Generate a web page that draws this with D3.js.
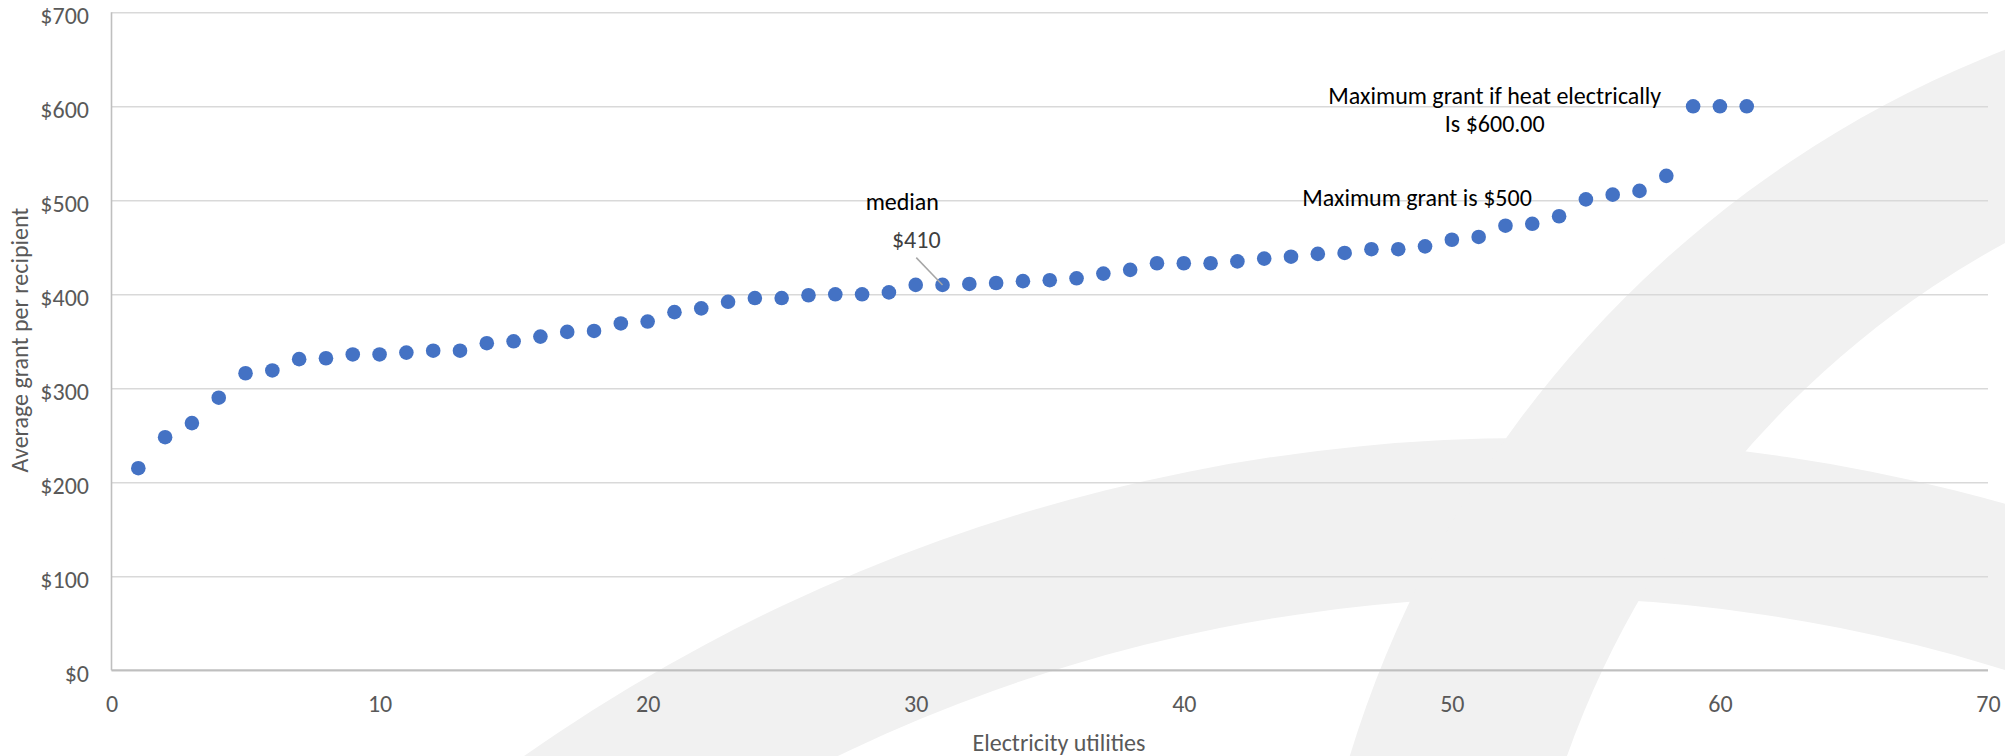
<!DOCTYPE html>
<html>
<head>
<meta charset="utf-8">
<script src="https://cdn.jsdelivr.net/npm/d3@7"></script>
<style>
  body { margin: 0; background: #fff; }
  text { font-family: Carlito, Calibri, Lato, "Liberation Sans", sans-serif; }
</style>
</head>
<body>
<svg id="chart"></svg>
<script>
// utilities ranked by average grant
const utilityRank = [1, 2, 3, 4, 5, 6, 7, 8, 9, 10,
  11, 12, 13, 14, 15, 16, 17, 18, 19, 20,
  21, 22, 23, 24, 25, 26, 27, 28, 29, 30,
  31, 32, 33, 34, 35, 36, 37, 38, 39, 40,
  41, 42, 43, 44, 45, 46, 47, 48, 49, 50,
  51, 52, 53, 54, 55, 56, 57, 58, 59, 60, 61];
const avgGrant = [215, 248, 263, 290, 316, 319, 331, 332, 336, 336,
  338, 340, 340, 348, 350, 355, 360, 361, 369, 371,
  381, 385, 392, 396, 396, 399, 400, 400, 402, 410,
  410, 411, 412, 414, 415, 417, 422, 426, 433, 433,
  433, 435, 438, 440, 443, 444, 448, 448, 451, 458,
  461, 473, 475, 483, 501, 506, 510, 526, 600, 600, 600];
const xTicks = [0, 10, 20, 30, 40, 50, 60, 70];
const yTicks = [0, 100, 200, 300, 400, 500, 600, 700];
const xTitle = 'Electricity utilities';
const yTitle = 'Average grant per recipient';
// annotation texts, anchored in data units
const noteText = ['median', 'Maximum grant if heat electrically', 'Is $600.00', 'Maximum grant is $500'];
const noteX = [29.5, 51.6, 51.6, 48.7];
const noteY = [499, 612, 582, 503];
const medianRank = 31;
const medianLabel = '$410';

const W = 2005, H = 756;
const FS = 24;
const svg = d3.select('#chart').attr('width', W).attr('height', H);

const x = d3.scaleLinear().domain([0, 70]).range([111.5, 1988]);
const y = d3.scaleLinear().domain([0, 700]).range([670.3, 12.3]);

// light watermark in the background
function ring(p, cx, cy, r) {
  p.moveTo(cx + r, cy);
  p.arc(cx, cy, r, 0, 2 * Math.PI);
}
const dome = d3.path();
ring(dome, 1530, 2188, 1750);
ring(dome, 1530, 2188, 1590);
const swoosh = d3.path();
ring(swoosh, 2404, 1077, 1102);
ring(swoosh, 2459, 1074, 947);
svg.selectAll('.wm').data([dome.toString(), swoosh.toString()]).join('path')
  .attr('class', 'wm')
  .attr('d', d => d)
  .attr('fill', '#f1f1f1')
  .attr('fill-rule', 'evenodd');

// y axis + gridlines
const yAxis = svg.append('g')
  .attr('transform', `translate(${x(0)},0)`)
  .call(d3.axisLeft(y).tickValues(yTicks).tickSizeInner(-(x(70) - x(0))).tickSizeOuter(0)
    .tickPadding(22.5).tickFormat(d => '$' + d));
yAxis.select('.domain').remove();
yAxis.selectAll('line').attr('stroke', '#d9d9d9').attr('stroke-width', 1.6);
yAxis.selectAll('text').attr('fill', '#595959').attr('font-size', FS).attr('dy', '0.45em');

// x axis
const xAxis = svg.append('g')
  .attr('transform', `translate(0,${y(0)})`)
  .call(d3.axisBottom(x).tickValues(xTicks).tickSize(0).tickPadding(25));
xAxis.select('.domain').remove();
xAxis.selectAll('text').attr('fill', '#595959').attr('font-size', FS);

// axis lines
svg.append('line')
  .attr('x1', x(0)).attr('x2', x(70)).attr('y1', y(0)).attr('y2', y(0))
  .attr('stroke', '#bfbfbf').attr('stroke-width', 2);
svg.append('line')
  .attr('x1', x(0)).attr('x2', x(0)).attr('y1', y(700)).attr('y2', y(0))
  .attr('stroke', '#bfbfbf').attr('stroke-width', 1.6);

// axis titles
svg.append('text')
  .attr('x', 1059).attr('y', 742)
  .attr('text-anchor', 'middle').attr('dominant-baseline', 'central')
  .attr('fill', '#595959').attr('font-size', FS)
  .text(xTitle);
svg.append('text')
  .attr('transform', 'translate(19,340) rotate(-90)')
  .attr('text-anchor', 'middle').attr('dominant-baseline', 'central')
  .attr('fill', '#595959').attr('font-size', FS)
  .text(yTitle);

// points
const pts = utilityRank.map((r, i) => ({ rank: r, grant: avgGrant[i] }));
svg.selectAll('.dot').data(pts).join('circle')
  .attr('class', 'dot')
  .attr('cx', d => x(d.rank))
  .attr('cy', d => y(d.grant))
  .attr('r', 7.3)
  .attr('fill', '#4472C4');

// median label with leader line
const med = pts.find(d => d.rank === medianRank);
svg.append('line')
  .attr('x1', x(30.02)).attr('y1', y(439))
  .attr('x2', x(med.rank)).attr('y2', y(med.grant))
  .attr('stroke', '#a6a6a6').attr('stroke-width', 1.5);
svg.append('text')
  .attr('x', x(30.02)).attr('y', y(458.5))
  .attr('text-anchor', 'middle').attr('dominant-baseline', 'central')
  .attr('fill', '#404040').attr('font-size', FS)
  .text(medianLabel);

// annotations
svg.selectAll('.note').data(noteText).join('text')
  .attr('class', 'note')
  .attr('x', (d, i) => x(noteX[i]))
  .attr('y', (d, i) => y(noteY[i]))
  .attr('text-anchor', 'middle').attr('dominant-baseline', 'central')
  .attr('fill', '#000').attr('font-size', FS)
  .text(d => d);
</script>
</body>
</html>
